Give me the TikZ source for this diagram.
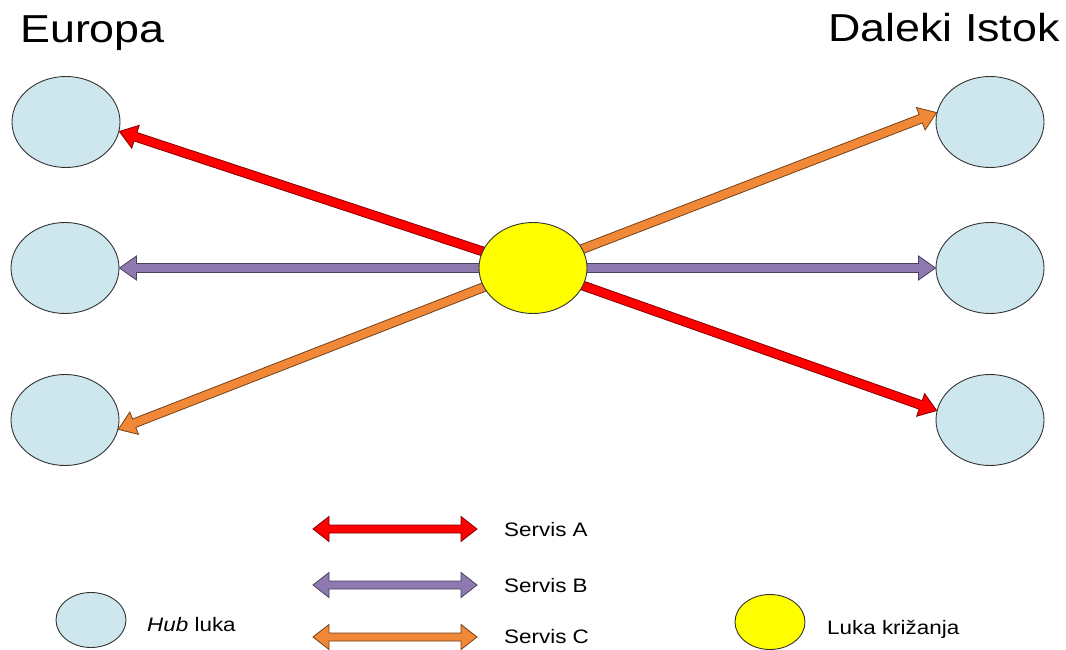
\documentclass[tikz,border=0pt]{standalone}
\usepackage{fontspec}
\setmainfont{Liberation Sans}[FakeStretch=1.15]
\usepackage{tikz}
\usetikzlibrary{shapes.geometric, calc, backgrounds}

\definecolor{portblue}{RGB}{206,230,238}
\definecolor{crossyellow}{RGB}{255,255,0}
\definecolor{redfill}{RGB}{255,0,0}
\definecolor{redline}{RGB}{130,0,0}
\definecolor{purplefill}{RGB}{142,122,176}
\definecolor{purpleline}{RGB}{75,65,95}
\definecolor{orangefill}{RGB}{240,136,56}
\definecolor{orangeline}{RGB}{115,65,25}

% block arrow from #1 to #2, one head at #2
\newcommand{\blockarrow}[3]{%
  \path let \p1=($(#2)-(#1)$) in \pgfextra{%
    \pgfmathsetmacro{\barot}{atan2(\y1,\x1)}\xdef\barot{\barot}%
    \pgfmathsetmacro{\balen}{veclen(\x1,\y1)}\xdef\balen{\balen}};
  \begin{scope}[shift={(#1)}, rotate=\barot]
    \draw[#3] (0pt,-4.5pt) -- ({\balen pt-17pt},-4.5pt) -- ({\balen pt-17pt},-12pt)
      -- (\balen pt,0pt) -- ({\balen pt-17pt},12pt) -- ({\balen pt-17pt},4.5pt)
      -- (0pt,4.5pt) -- cycle;
  \end{scope}}

% block arrow between #1 and #2, heads at both ends
\newcommand{\blockarrowboth}[3]{%
  \path let \p1=($(#2)-(#1)$) in \pgfextra{%
    \pgfmathsetmacro{\balen}{veclen(\x1,\y1)}\xdef\balen{\balen}};
  \begin{scope}[shift={(#1)}]
    \draw[#3] (16pt,-4pt) -- ({\balen pt-16pt},-4pt) -- ({\balen pt-16pt},-12.5pt)
      -- (\balen pt,0pt) -- ({\balen pt-16pt},12.5pt) -- ({\balen pt-16pt},4pt)
      -- (16pt,4pt) -- (16pt,12.5pt) -- (0pt,0pt) -- (16pt,-12.5pt) -- cycle;
  \end{scope}}

\begin{document}
\begin{tikzpicture}[
    x=1pt, y=-1pt,
    port/.style={ellipse, draw=black!80, line width=0.9pt, fill=portblue,
      minimum width=108pt, minimum height=91pt, inner sep=0pt}, % hub port
    crossport/.style={port, fill=crossyellow},                  % crossing port
    smallport/.style={minimum width=70pt, minimum height=55pt},  % legend size
    title/.style={inner sep=0pt, font=\fontsize{39}{45}\selectfont},
    legendtext/.style={inner sep=0pt, anchor=base west, font=\fontsize{19.5}{23}\selectfont},
    servisA/.style={fill=redfill, draw=redline, line width=0.8pt},
    servisB/.style={fill=purplefill, draw=purpleline, line width=0.8pt},
    servisC/.style={fill=orangefill, draw=orangeline, line width=0.8pt}
    ]

    \useasboundingbox (0,0) rectangle (1066,650);

    % titles
    \node[title, anchor=base west] (europa) at (20,43) {Europa};
    \node[title, anchor=base east] (istok) at (1060,42) {Daleki Istok};

    % ports
    \node[port] (eu1) at (66,122) {};
    \node[port] (eu2) at (65,268) {};
    \node[port] (eu3) at (65,420) {};
    \node[port] (fe1) at (990,122) {};
    \node[port] (fe2) at (990,268) {};
    \node[port] (fe3) at (990,420) {};
    \node[crossport] (hub) at (533,268) {};

    % services, under the crossing port
    \begin{scope}[on background layer]
      \blockarrow{hub}{eu1.350}{servisA}
      \blockarrow{hub}{fe3.170}{servisA}
      \blockarrow{hub}{eu2.east}{servisB}
      \blockarrow{hub}{fe2.west}{servisB}
      \blockarrow{hub}{eu3.350}{servisC}
      \blockarrow{hub}{fe1.170}{servisC}
    \end{scope}

    % legend
    \coordinate (lgA-l) at (313,529);
    \coordinate (lgA-r) at (477,529);
    \coordinate (lgB-l) at (313,585);
    \coordinate (lgB-r) at (477,585);
    \coordinate (lgC-l) at (313,637);
    \coordinate (lgC-r) at (477,637);
    \blockarrowboth{lgA-l}{lgA-r}{servisA}
    \blockarrowboth{lgB-l}{lgB-r}{servisB}
    \blockarrowboth{lgC-l}{lgC-r}{servisC}
    \node[legendtext] (txtA) at (504,536) {Servis A};
    \node[legendtext] (txtB) at (504,592) {Servis B};
    \node[legendtext] (txtC) at (504,643) {Servis C};

    \node[port, smallport] (lghub) at (91,620) {};
    \node[legendtext] (txthub) at (147,631) {\textit{Hub} luka};
    \node[crossport, smallport] (lgcross) at (770,622) {};
    \node[legendtext] (txtcross) at (827,634) {Luka križanja};

\end{tikzpicture}
\end{document}
